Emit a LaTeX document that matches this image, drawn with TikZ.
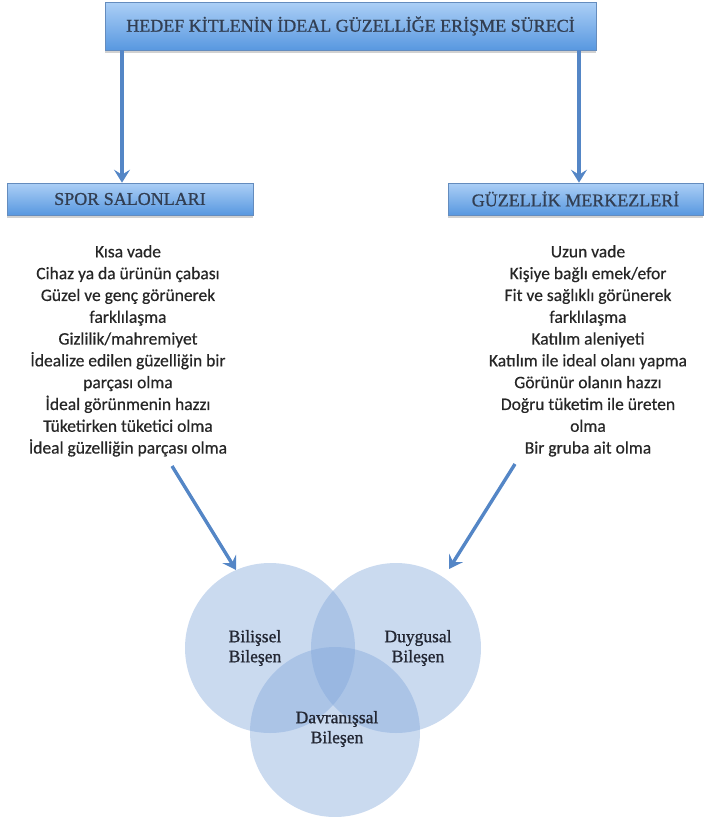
\documentclass[tikz,border=0pt]{standalone}
\usepackage{fontspec}
\setmainfont{Liberation Serif}
\newfontfamily\headfont[FakeBold=0.9]{Liberation Serif}
\newfontfamily\bodyfont[FakeBold=0.5]{Carlito}
\usetikzlibrary{shadows,arrows.meta}
\definecolor{boxtop}{RGB}{172,207,246}
\definecolor{boxbot}{RGB}{88,152,224}
\definecolor{boxline}{RGB}{100,140,190}
\definecolor{headtxt}{RGB}{50,62,82}
\definecolor{arrcol}{RGB}{84,134,198}
\definecolor{circfill}{RGB}{128,166,218}
\definecolor{circtxt}{RGB}{34,38,50}
\tikzset{
  hbox/.style={draw=boxline, line width=0.6pt, top color=boxtop, bottom color=boxbot,
    drop shadow={shadow xshift=0pt, shadow yshift=-3pt, opacity=0.3, fill=black!60},
    text=headtxt, font=\headfont\fontsize{18}{20}\selectfont, inner sep=0pt},
  arr/.style={draw=arrcol, line width=3.4pt, -{Stealth[length=13pt,width=16pt,inset=5pt]}},
  listtxt/.style={align=center, font=\bodyfont\fontsize{17.5}{21.8}\selectfont, text=black!85, inner sep=0pt},
  circ/.style={circle, fill=circfill, fill opacity=0.42, minimum size=170pt, inner sep=0pt},
  ctxt/.style={align=center, font=\headfont\fontsize{17.5}{20}\selectfont, text=circtxt, inner sep=0pt}
}
\begin{document}
\begin{tikzpicture}[x=1pt,y=-1pt]
\useasboundingbox (0,0) rectangle (705,817);
% boxes
\node[hbox, minimum width=491pt, minimum height=48pt] (top) at (350.5,26) {HEDEF KİTLENİN İDEAL GÜZELLİĞE ERİŞME SÜRECİ};
\node[hbox, minimum width=246pt, minimum height=32pt] (sl) at (130,199) {SPOR SALONLARI};
\node[hbox, minimum width=255pt, minimum height=32pt] (gm) at (575.5,199) {GÜZELLİK MERKEZLERİ};
% connectors from top box
\coordinate (ax1) at (122,0);
\coordinate (ax2) at (579,0);
\draw[arr] (top.south -| ax1) -- (sl.north -| ax1);
\draw[arr] (top.south -| ax2) -- (gm.north -| ax2);
% lists
\node[listtxt, anchor=north] (ltxt) at (128,245) {Kısa vade\\Cihaz ya da ürünün çabası\\Güzel ve genç görünerek\\farklılaşma\\Gizlilik/mahremiyet\\İdealize edilen güzelliğin bir\\parçası olma\\İdeal görünmenin hazzı\\Tüketirken tüketici olma\\İdeal güzelliğin parçası olma};
\node[listtxt, anchor=north] (rtxt) at (588,245) {Uzun vade\\Kişiye bağlı emek/efor\\Fit ve sağlıklı görünerek\\farklılaşma\\Katılım aleniyeti\\Katılım ile ideal olanı yapma\\Görünür olanın hazzı\\Doğru tüketim ile üreten\\olma\\Bir gruba ait olma};
% circles
\node[circ] (c1) at (270,648) {};
\node[circ] (c2) at (396,648) {};
\node[circ] (c3) at (335,732) {};
\node[ctxt] (t1) at (255,648) {Bilişsel\\Bileşen};
\node[ctxt] (t2) at (418,648) {Duygusal\\Bileşen};
\node[ctxt] (t3) at (337,729) {Davranışsal\\Bileşen};
% arrows to circles
\coordinate (s1) at (172,466);
\coordinate (s2) at (515,464);
\coordinate (e1) at (236,570);
\coordinate (e2) at (449,569);
\draw[arr] (s1) -- (e1);
\draw[arr] (s2) -- (e2);
\end{tikzpicture}
\end{document}
